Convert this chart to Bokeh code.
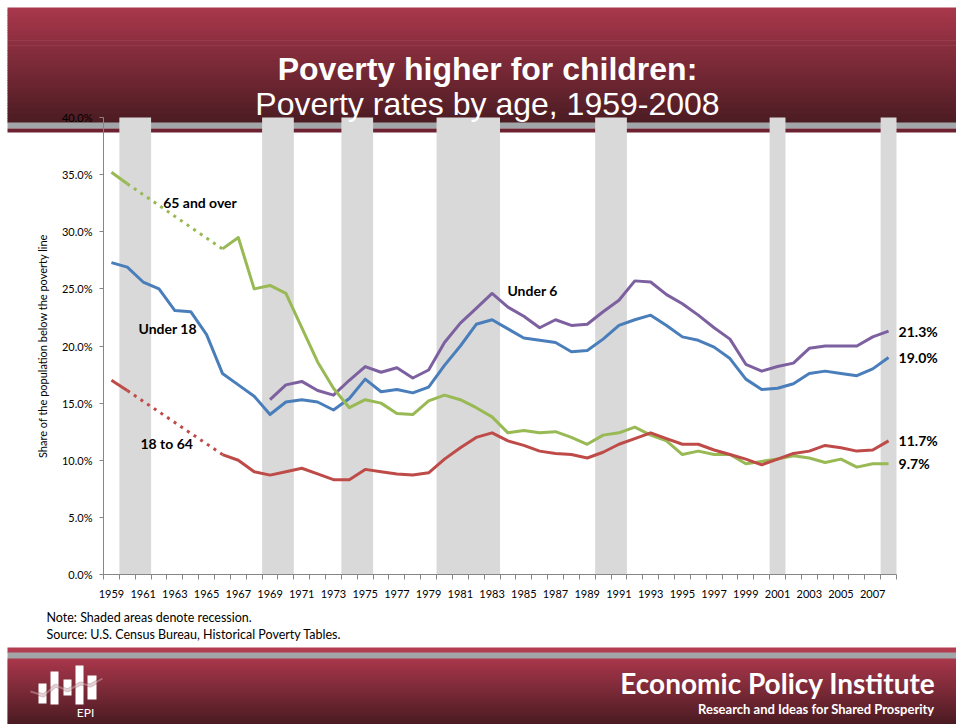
from bokeh.plotting import figure
from bokeh.models import (Range1d, FixedTicker, PrintfTickFormatter, BoxAnnotation,
                          Label, PolyAnnotation, LinearAxis)
from bokeh.embed import file_html
from bokeh.resources import INLINE

# ---------------- data ----------------
years = list(range(1959, 2009))
under18 = [27.3, 26.9, 25.6, 25.0, 23.1, 23.0, 21.0, 17.6, 16.6, 15.6,
           14.0, 15.1, 15.3, 15.1, 14.4, 15.4, 17.1, 16.0, 16.2, 15.9,
           16.4, 18.3, 20.0, 21.9, 22.3, 21.5, 20.7, 20.5, 20.3, 19.5,
           19.6, 20.6, 21.8, 22.3, 22.7, 21.8, 20.8, 20.5, 19.9, 18.9,
           17.1, 16.2, 16.3, 16.7, 17.6, 17.8, 17.6, 17.4, 18.0, 19.0]

under6_years = list(range(1969, 2009))
under6 = [15.3, 16.6, 16.9, 16.1, 15.7, 17.0, 18.2, 17.7, 18.1, 17.2,
          17.9, 20.3, 22.0, 23.3, 24.6, 23.4, 22.6, 21.6, 22.3, 21.8,
          21.9, 23.0, 24.0, 25.7, 25.6, 24.5, 23.7, 22.7, 21.6, 20.6,
          18.4, 17.8, 18.2, 18.5, 19.8, 20.0, 20.0, 20.0, 20.8, 21.3]

early_years = [1959, 1960]          # solid start before the gap
gap_years = [1960, 1966]            # dotted bridge (no annual data)
main_years = list(range(1966, 2009))

elderly_early = [35.2, 34.2]
elderly = [28.5, 29.5, 25.0, 25.3, 24.6, 21.6, 18.6, 16.3, 14.6, 15.3,
           15.0, 14.1, 14.0, 15.2, 15.7, 15.3, 14.6, 13.8, 12.4, 12.6,
           12.4, 12.5, 12.0, 11.4, 12.2, 12.4, 12.9, 12.2, 11.7, 10.5,
           10.8, 10.5, 10.5, 9.7, 9.9, 10.1, 10.4, 10.2, 9.8, 10.1,
           9.4, 9.7, 9.7]

working_early = [17.0, 16.1]
working = [10.5, 10.0, 9.0, 8.7, 9.0, 9.3, 8.8, 8.3, 8.3, 9.2,
           9.0, 8.8, 8.7, 8.9, 10.1, 11.1, 12.0, 12.4, 11.7, 11.3,
           10.8, 10.6, 10.5, 10.2, 10.7, 11.4, 11.9, 12.4, 11.9, 11.4,
           11.4, 10.9, 10.5, 10.1, 9.6, 10.1, 10.6, 10.8, 11.3, 11.1,
           10.8, 10.9, 11.7]

rec_start = [1960, 1969, 1974, 1980, 1990, 2001, 2008]
rec_end = [1961, 1970, 1975, 1983, 1991, 2001, 2008]

x_tick_years = list(range(1959, 2008, 2))
y_ticks = [0, 5, 10, 15, 20, 25, 30, 35, 40]

# ---------------- layout ----------------
W, H = 956, 724
PL, PR, PT, PB = 103, 896, 117, 574          # plot area in canvas pixels
X0, X1 = years[0] - 0.5, years[-1] + 0.5
Y0, Y1 = 0, 40
XS = (PR - PL) / (X1 - X0)
YS = (PB - PT) / (Y1 - Y0)

BLUE, RED, GREEN, PURPLE = "#4A7EBB", "#BE4B48", "#98B954", "#7D60A0"
AXIS_GRAY = "#868686"

# the frame covers the whole canvas; axes are pinned at the plot-area edges
p = figure(width=W, height=H, output_backend="svg", toolbar_location=None,
           x_range=Range1d(X0 - PL / XS, X1 + (W - PR) / XS),
           y_range=Range1d(Y0 - (H - PB) / YS, Y1 + PT / YS),
           x_axis_location=None, y_axis_location=None,
           min_border=0, min_border_left=0, min_border_right=0,
           min_border_top=0, min_border_bottom=0)
p.outline_line_color = None
p.background_fill_color = "white"
p.border_fill_color = "white"
for g in p.grid:
    g.visible = False
p.xgrid.grid_line_color = None
p.ygrid.grid_line_color = None


def sx(x):
    return x


def sy(y):
    return H - y


def box(l, r, t, b, color, level="underlay"):
    p.add_layout(BoxAnnotation(left=sx(l), right=sx(r), top=sy(t), bottom=sy(b),
                               left_units="screen", right_units="screen",
                               top_units="screen", bottom_units="screen",
                               fill_color=color, fill_alpha=1.0,
                               line_color=None, level=level))


def hex2rgb(h):
    h = h.lstrip("#")
    return tuple(int(h[i:i + 2], 16) for i in (0, 2, 4))


def mix(c1, c2, t):
    a, b = hex2rgb(c1), hex2rgb(c2)
    return "#%02x%02x%02x" % tuple(int(round(a[i] + (b[i] - a[i]) * t)) for i in range(3))


def gradient(y0, y1, c_top, c_bot, x0=7, x1=W, n=40, level="underlay"):
    step = (y1 - y0) / n
    for i in range(n):
        t = (i + 0.5) / n
        box(x0, x1, y0 + i * step, min(y1, y0 + (i + 1) * step + 0.7),
            mix(c_top, c_bot, t), level)


TOP_RED, BOT_RED = "#A9374B", "#4A1B22"

# header band
gradient(7, 122.5, TOP_RED, "#4B1C23", n=46)
box(7, W, 122, 128, "#A3A6A8")
box(7, W, 128, 132, "#6D2232")

# footer band
box(7, W, 647, 652.5, "#B23D51")
box(7, W, 652, 658.5, "#A3A6A8")
gradient(658, H, TOP_RED, BOT_RED, n=33)

# EPI logo (decorative)
logo_bars = [(38, 46, 683, 703), (50, 58, 671, 704), (63, 71, 679, 695),
             (75, 83, 665, 704), (87, 96, 675, 699)]
for (x0, x1, y0, y1) in logo_bars:
    box(x0, x1, y0, y1, "white", level="annotation")
logo_line_x = [30, 43, 55, 67, 80, 90, 102]
logo_line_y = [691, 695, 685, 690, 683, 685, 678]
for lw, col in [(4, "#7A2A38"), (2, "white")]:
    xs = [sx(v) for v in logo_line_x] + [sx(v) for v in logo_line_x[::-1]]
    ys = [sy(v) for v in logo_line_y] + [sy(v) for v in logo_line_y[::-1]]
    p.add_layout(PolyAnnotation(xs=xs, ys=ys, xs_units="screen", ys_units="screen",
                                fill_color=None, fill_alpha=0, line_color=col,
                                line_width=lw, level="annotation"))


def label(x, y, text, size, color="black", style="normal", font="Lato",
          align="left", baseline="middle", units="screen", x_offset=0):
    p.add_layout(Label(x=x, y=y, x_units=units, y_units=units, text=text,
                       x_offset=x_offset,
                       text_font=font, text_font_size=size, text_font_style=style,
                       text_color=color, text_align=align, text_baseline=baseline))


label(sx(85), sy(712), "EPI", "12px", color="white", align="center")

# titles
label(sx(487), sy(68), "Poverty higher for children:", "32px", color="white",
      style="bold", font="Liberation Sans", align="center")
label(sx(487), sy(103), "Poverty rates by age, 1959-2008", "32px", color="white",
      font="Liberation Sans", align="center")

# footer texts
label(sx(935), sy(682), "Economic Policy Institute", "28px", color="white",
      style="bold", align="right")
label(sx(934), sy(708), "Research and Ideas for Shared Prosperity", "13px",
      color="white", style="bold", align="right")

# notes
label(sx(46), sy(617), "Note: Shaded areas denote recession.", "12.5px")
label(sx(46), sy(634), "Source: U.S. Census Bureau, Historical Poverty Tables.", "12.5px")

# ---------------- plot ----------------
p.quad(left=[s - 0.5 for s in rec_start], right=[e + 0.5 for e in rec_end],
       bottom=Y0, top=Y1, fill_color="#D9D9D9", line_color=None)

LW = 3
p.line(years, under18, line_color=BLUE, line_width=LW, line_join="round")
p.line(under6_years, under6, line_color=PURPLE, line_width=LW, line_join="round")

p.line(early_years, elderly_early, line_color=GREEN, line_width=LW)
p.line(gap_years, [elderly_early[-1], elderly[0]], line_color=GREEN, line_width=LW,
       line_dash="3 5")
p.line(main_years, elderly, line_color=GREEN, line_width=LW, line_join="round")

p.line(early_years, working_early, line_color=RED, line_width=LW)
p.line(gap_years, [working_early[-1], working[0]], line_color=RED, line_width=LW,
       line_dash="3 5")
p.line(main_years, working, line_color=RED, line_width=LW, line_join="round")

# series labels
label(1962.26, 32.56, "65 and over", "14px", style="bold", units="data")
label(1960.71, 21.53, "Under 18", "14px", style="bold", units="data")
label(1960.83, 11.47, "18 to 64", "14px", style="bold", units="data")
label(1983.97, 24.86, "Under 6", "14px", style="bold", units="data")

for v in [under6[-1], under18[-1], working[-1], elderly[-1]]:
    label(years[-1], v, "%.1f%%" % v, "14px", style="bold", units="data", x_offset=10)

# ---------------- axes ----------------
xa = LinearAxis(fixed_location=Y0, bounds=(X0, X1))
xa.ticker = FixedTicker(ticks=x_tick_years,
                        minor_ticks=[y - 0.5 for y in years] + [years[-1] + 0.5])
xa.major_tick_out = 0
xa.major_tick_in = 0
xa.minor_tick_out = 5
xa.minor_tick_in = 0
xa.minor_tick_line_color = AXIS_GRAY
xa.axis_line_color = AXIS_GRAY
xa.major_label_text_font = "Lato"
xa.major_label_text_font_size = "11px"
xa.major_label_text_color = "black"
xa.major_label_standoff = 10
p.add_layout(xa, "below")

ya = LinearAxis(fixed_location=X0, bounds=(Y0, Y1))
ya.ticker = FixedTicker(ticks=y_ticks, minor_ticks=[])
ya.formatter = PrintfTickFormatter(format="%.1f%%")
ya.major_tick_out = 4
ya.major_tick_in = 0
ya.minor_tick_out = 0
ya.minor_tick_in = 0
ya.major_tick_line_color = AXIS_GRAY
ya.axis_line_color = AXIS_GRAY
ya.major_label_text_font = "Lato"
ya.major_label_text_font_size = "11px"
ya.major_label_text_color = "black"
ya.major_label_standoff = 7
ya.axis_label = "Share of the population below the poverty line"
ya.axis_label_text_font = "Lato"
ya.axis_label_text_font_size = "11px"
ya.axis_label_text_font_style = "normal"
ya.axis_label_text_color = "black"
ya.axis_label_standoff = 10
p.add_layout(ya, "left")

open("out.html", "w").write(file_html(p, INLINE))
